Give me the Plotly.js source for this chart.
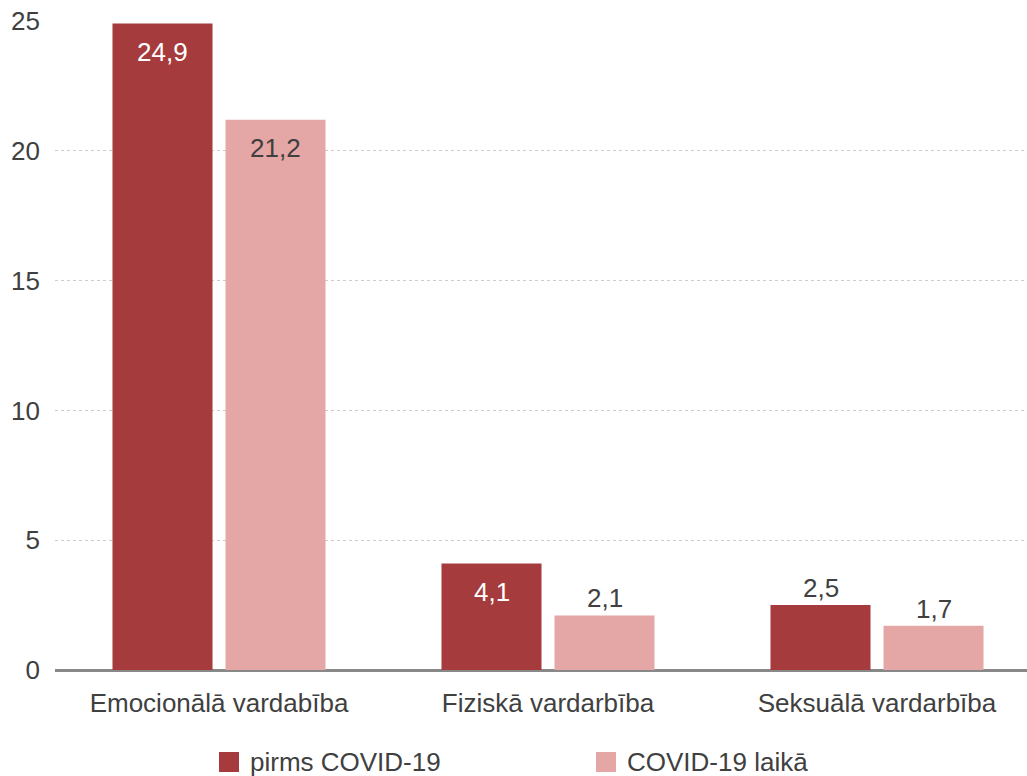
<!DOCTYPE html>
<html>
<head>
<meta charset="utf-8">
<script src="https://cdn.plot.ly/plotly-3.0.1.min.js"></script>
<style>html,body{margin:0;padding:0;background:#fff;}#chart{width:1027px;height:776px;}</style>
</head>
<body>
<div id="chart"></div>
<script>
const categories = ["Emocionālā vardabība", "Fiziskā vardarbība", "Seksuālā vardarbība"];
const seriesNames = ["pirms COVID-19", "COVID-19 laikā"];
const valuesBefore = [24.9, 4.1, 2.5];
const valuesDuring = [21.2, 2.1, 1.7];
const yTicks = [0, 5, 10, 15, 20, 25];

const FONT = '"Liberation Sans", Arial, sans-serif';
const FS = 26;
const TXT = '#404040';
const C1 = '#A53B3C';
const C2 = '#E5A6A6';

function fmt(v){ return v.toFixed(1).replace('.', ','); }

// label styling: which labels sit inside the bar top (style, not data)
const insideBefore = [true, true, false];
const insideDuring = [true, false, false];
const GROUP_OFFSET = 56.5; // px offset of each bar from its category centre

const annotations = [];
function addLabels(vals, inside, sign, insideColor) {
  vals.forEach((v, i) => {
    const ins = inside[i];
    annotations.push({
      x: categories[i], y: v, xref: 'x', yref: 'y',
      text: fmt(v), showarrow: false,
      xshift: sign * GROUP_OFFSET,
      yanchor: ins ? 'top' : 'bottom',
      yshift: ins ? -11 : 0,
      font: {family: FONT, size: FS, color: ins ? insideColor : TXT}
    });
  });
}
addLabels(valuesBefore, insideBefore, -1, '#ffffff');
addLabels(valuesDuring, insideDuring, 1, TXT);

// manual legend (paper coordinates)
const legendItems = [
  {name: seriesNames[0], color: C1, x0: 0.16872, x1: 0.18930, tx: 0.19856},
  {name: seriesNames[1], color: C2, x0: 0.55658, x1: 0.57716, tx: 0.58642}
];
const shapes = [];
legendItems.forEach(it => {
  shapes.push({type: 'rect', xref: 'paper', yref: 'paper',
    x0: it.x0, x1: it.x1, y0: -0.15716, y1: -0.12635,
    fillcolor: it.color, line: {width: 0}});
  annotations.push({xref: 'paper', yref: 'paper', x: it.tx, y: -0.14176,
    xanchor: 'left', yanchor: 'middle', text: it.name, showarrow: false,
    font: {family: FONT, size: FS, color: TXT}});
});

const traces = [
  {
    type: 'bar', x: categories, y: valuesBefore, name: seriesNames[0],
    marker: {color: C1}, showlegend: false, hoverinfo: 'skip'
  },
  {
    type: 'bar', x: categories, y: valuesDuring, name: seriesNames[1],
    marker: {color: C2}, showlegend: false, hoverinfo: 'skip'
  }
];

const layout = {
  width: 1027, height: 776,
  margin: {l: 55, r: 0, t: 21, b: 106},
  paper_bgcolor: '#fff', plot_bgcolor: '#fff',
  font: {family: FONT, size: FS, color: TXT},
  barmode: 'group', bargap: 0.313, bargroupgap: 0.115,
  xaxis: {
    type: 'category', range: [-0.4985, 2.4559], automargin: false,
    showgrid: false, showline: false, zeroline: false, ticks: '', tickangle: 0,
    tickfont: {size: FS, color: TXT, family: FONT},
    ticklabelstandoff: 15
  },
  yaxis: {
    range: [0, 25], tickvals: yTicks, ticktext: yTicks.map(String), automargin: false,
    showgrid: true, gridcolor: '#cccccc', griddash: 'dot', gridwidth: 1,
    zeroline: true, zerolinecolor: '#888888', zerolinewidth: 3,
    showline: false, ticks: '',
    tickfont: {size: FS, color: TXT, family: FONT},
    ticklabelstandoff: 14
  },
  annotations: annotations,
  shapes: shapes,
  showlegend: false
};

Plotly.newPlot('chart', traces, layout, {displayModeBar: false, staticPlot: true});
</script>
</body>
</html>
